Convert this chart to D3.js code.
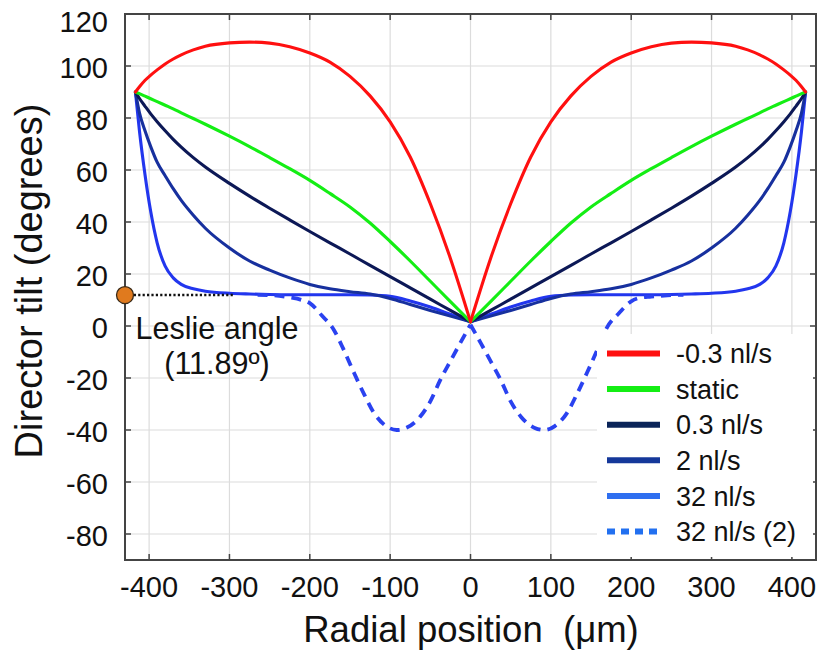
<!DOCTYPE html>
<html>
<head>
<meta charset="utf-8">
<script src="https://cdn.jsdelivr.net/npm/d3@7"></script>
<style>
  html, body { margin: 0; padding: 0; background: #fff; }
  svg text { font-family: "Liberation Sans", Arial, sans-serif; fill: #111; }
</style>
</head>
<body>
<svg id="chart" width="822" height="654"></svg>
<script>
// ---------- data ----------
const xGrid = [-417,-412,-405,-398,-390,-380,-370,-360,-345,-330,-300,-275,-250,-225,-200,-175,-150,-125,-100,-75,-50,-25,0,
               25,50,75,100,125,150,175,200,225,250,275,300,330,345,360,370,380,390,398,405,412,417];

const seriesNeg03 = [90,92,94.5,96.5,98.5,100.8,102.7,104.3,106.2,107.6,108.9,109.2,108.8,107.4,105,101.5,96,88.5,78.5,65,47,26,1.65,
                     26,47,65,78.5,88.5,96,101.5,105,107.4,108.8,109.2,108.9,107.6,106.2,104.3,102.7,100.8,98.5,96.5,94.5,92,90];
const seriesStatic = [90,89.4,88.4,87.4,86.3,84.9,83.5,82,79.8,77.6,73,69,64.8,60.5,56,51,45.8,39.6,32.5,25,17.2,9.4,1.65,
                      9.4,17.2,25,32.5,39.6,45.8,51,56,60.5,64.8,69,73,77.6,79.8,82,83.5,84.9,86.3,87.4,88.4,89.4,90];
const series03 = [90,87.5,84.5,81.6,78.6,75.1,71.8,68.8,64.75,61.15,54.85,49.95,45.3,40.8,36.35,32,27.7,23.3,19,14.65,10.3,6,1.65,
                  6,10.3,14.65,19,23.3,27.7,32,36.35,40.8,45.3,49.95,54.85,61.15,64.75,68.8,71.8,75.1,78.6,81.6,84.5,87.5,90];
const series2 = [90,82,75,69,63,57.8,52.8,48.3,42.6,37.6,30,25,21.5,18.5,16,14.3,13.2,12.3,10.6,8.3,6,3.8,1.65,
                 3.8,6,8.3,10.6,12.3,13.2,14.3,16,18.5,21.5,25,30,37.6,42.6,48.3,52.8,57.8,63,69,75,82,90];
const series32 = [90,75,58,44,32,23,18.5,16,14.3,13.4,12.6,12.3,12.1,12,12,12,12,11.9,11.4,9.6,7.3,4.5,1.65,
                  4.5,7.3,9.6,11.4,11.9,12,12,12,12,12.1,12.3,12.6,13.4,14.3,16,18.5,23,32,44,58,75,90];

const xDashed = [-265,-245,-225,-210,-200,-185,-170,-158,-145,-132,-120,-105,-92,-80,-63,-50,-38,-25,-13,0,
                 13,25,38,50,63,80,92,105,120,132,145,158,170,185,200,210,225,245,265];
const series32b = [12,11.8,11,10,8.8,4,-1.5,-9,-18,-26.5,-33.5,-38.5,-40,-39.2,-35,-29,-21,-13.5,-6.7,0.5,
                   -6.7,-13.5,-21,-29,-35,-39.2,-40,-38.5,-33.5,-26.5,-18,-9,-0.5,5,9.5,10.8,11.3,11.8,12];

const legendLabels = ["-0.3 nl/s", "static", "0.3 nl/s", "2 nl/s", "32 nl/s", "32 nl/s (2)"];
const xTicks = [-400,-300,-200,-100,0,100,200,300,400];
const yTicks = [-80,-60,-40,-20,0,20,40,60,80,100,120];
const xDomain = [-430, 430];
const yDomain = [-90, 120];
const leslieAngle = 11.89;
const leslieLineEnd = -295;

// ---------- styling ----------
const lineColors   = ["#ff1010", "#14ee14", "#0c1856", "#17309e", "#2236ee", "#2a42f0"];
const legendColors = ["#ff1010", "#14ee14", "#0a2458", "#15389a", "#2f6ff0", "#2270f0"];

const svg = d3.select("#chart");
const M = { left: 125, right: 816, top: 14, bottom: 560 };

const x = d3.scaleLinear().domain(xDomain).range([M.left, M.right]);
const y = d3.scaleLinear().domain(yDomain).range([M.bottom, M.top]);

// grid
const grid = svg.append("g");
grid.selectAll("line.v").data(xTicks).enter().append("line")
  .attr("x1", d => x(d)).attr("x2", d => x(d))
  .attr("y1", M.top).attr("y2", M.bottom)
  .attr("stroke", "#dcdcdc").attr("stroke-width", 1.2);
grid.selectAll("line.h").data(yTicks).enter().append("line")
  .attr("x1", M.left).attr("x2", M.right)
  .attr("y1", d => y(d)).attr("y2", d => y(d))
  .attr("stroke", "#dcdcdc").attr("stroke-width", 1.2);

// clip
svg.append("clipPath").attr("id", "clip").append("rect")
  .attr("x", M.left).attr("y", M.top).attr("width", M.right - M.left).attr("height", M.bottom - M.top);

const plot = svg.append("g").attr("clip-path", "url(#clip)");
const lineGen = d3.line().x(d => x(d.x)).y(d => y(d.y)).curve(d3.curveMonotoneX);

function drawSeries(xs, ys, color, dash) {
  const pts = xs.map((xv, i) => ({ x: xv, y: ys[i] }));
  const halves = [pts.filter(p => p.x <= 0), pts.filter(p => p.x >= 0)];
  halves.forEach(h => {
    plot.append("path").datum(h)
      .attr("d", lineGen)
      .attr("fill", "none")
      .attr("stroke", color)
      .attr("stroke-width", dash ? 3.8 : 3.1)
      .attr("stroke-linejoin", "round")
      .attr("stroke-linecap", dash ? "butt" : "round")
      .attr("stroke-dasharray", dash ? "10,7" : null);
  });
}
drawSeries(xGrid, series32, lineColors[4]);
drawSeries(xGrid, series2, lineColors[3]);
drawSeries(xGrid, series03, lineColors[2]);
drawSeries(xGrid, seriesStatic, lineColors[1]);
drawSeries(xGrid, seriesNeg03, lineColors[0]);
drawSeries(xDashed, series32b, lineColors[5], true);

// axes box with inward ticks
const axG = svg.append("g");
const tickLen = 6;
const axisColor = "#444";
axG.append("rect").attr("x", M.left).attr("y", M.top)
  .attr("width", M.right - M.left).attr("height", M.bottom - M.top)
  .attr("fill", "none").attr("stroke", axisColor).attr("stroke-width", 2);
xTicks.forEach(t => {
  axG.append("line").attr("x1", x(t)).attr("x2", x(t)).attr("y1", M.bottom).attr("y2", M.bottom - tickLen)
    .attr("stroke", axisColor).attr("stroke-width", 1.5);
  axG.append("line").attr("x1", x(t)).attr("x2", x(t)).attr("y1", M.top).attr("y2", M.top + tickLen)
    .attr("stroke", axisColor).attr("stroke-width", 1.5);
});
yTicks.forEach(t => {
  axG.append("line").attr("x1", M.left).attr("x2", M.left + tickLen).attr("y1", y(t)).attr("y2", y(t))
    .attr("stroke", axisColor).attr("stroke-width", 1.5);
  axG.append("line").attr("x1", M.right).attr("x2", M.right - tickLen).attr("y1", y(t)).attr("y2", y(t))
    .attr("stroke", axisColor).attr("stroke-width", 1.5);
});

// tick labels
svg.append("g").selectAll("text").data(xTicks).enter().append("text")
  .attr("x", d => x(d)).attr("y", 597)
  .attr("text-anchor", "middle").attr("font-size", 29)
  .text(d => d);
svg.append("g").selectAll("text").data(yTicks).enter().append("text")
  .attr("x", 108).attr("y", d => Math.max(y(d), 20)).attr("dy", "0.4em")
  .attr("text-anchor", "end").attr("font-size", 29)
  .text(d => d);

// axis titles
svg.append("text").attr("x", 471).attr("y", 642).attr("text-anchor", "middle")
  .attr("font-size", 36.5).text("Radial position\u00a0 (μm)");
svg.append("text").attr("transform", "translate(42,281) rotate(-90)")
  .attr("text-anchor", "middle").attr("font-size", 38).text("Director tilt (degrees)");

// legend
const leg = svg.append("g");
leg.append("rect").attr("x", 597).attr("y", 334).attr("width", 216).attr("height", 223).attr("fill", "#fff");
legendLabels.forEach((lab, i) => {
  const yy = 353.5 + i * 35.6;
  leg.append("line").attr("x1", 607).attr("x2", 660).attr("y1", yy).attr("y2", yy)
    .attr("stroke", legendColors[i]).attr("stroke-width", 6)
    .attr("stroke-dasharray", i === 5 ? "8,6" : null);
  leg.append("text").attr("x", 676).attr("y", yy).attr("dy", "0.36em")
    .attr("font-size", 27).text(lab);
});

// Leslie angle annotation
svg.append("line").attr("x1", x(xDomain[0])).attr("x2", x(leslieLineEnd))
  .attr("y1", y(leslieAngle)).attr("y2", y(leslieAngle))
  .attr("stroke", "#111").attr("stroke-width", 2.5).attr("stroke-dasharray", "2.2,2.2");
svg.append("circle").attr("cx", x(xDomain[0])).attr("cy", y(leslieAngle)).attr("r", 8.5)
  .attr("fill", "#e07a1e").attr("stroke", "#3a2a18").attr("stroke-width", 1.3);
svg.append("text").attr("x", 217).attr("y", 339).attr("text-anchor", "middle")
  .attr("font-size", 30.5).text("Leslie angle");
svg.append("text").attr("x", 217).attr("y", 374).attr("text-anchor", "middle")
  .attr("font-size", 30.5).text("(11.89º)");
</script>
</body>
</html>
